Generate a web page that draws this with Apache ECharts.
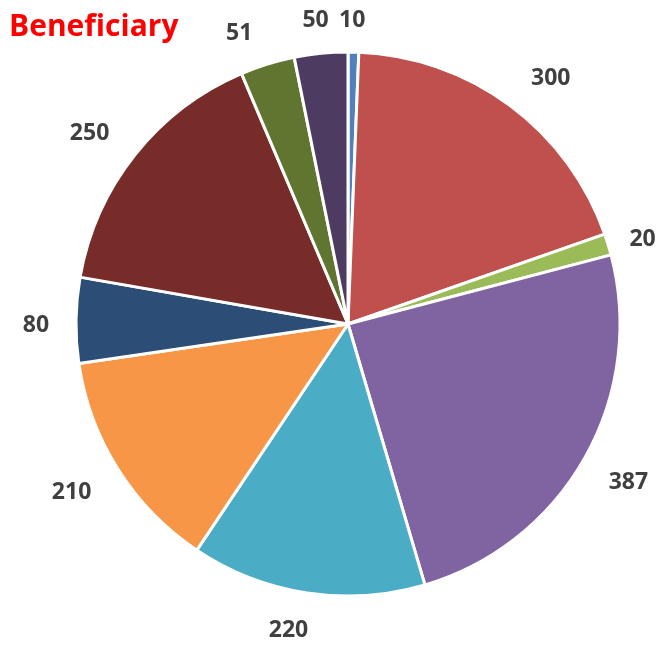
<!DOCTYPE html>
<html>
<head>
<meta charset="utf-8">
<script src="https://cdn.jsdelivr.net/npm/echarts@6/dist/echarts.min.js"></script>
<style>
    html, body { margin: 0; padding: 0; background: #fff; }
    #chart { width: 659px; height: 645px; }
</style>
</head>
<body>
<div id="chart"></div>
<script>
var values = [10, 300, 20, 387, 220, 210, 80, 250, 51, 50];
var colors = ['#4F81BD', '#C0504D', '#9BBB59', '#8064A2', '#4BACC6',
              '#F79646', '#2C4D75', '#772C2A', '#5F7530', '#4D3B62'];
// distance of each label from the pie edge
var labelGap = [32, 34, 17, 33, 38, 34, 24, 34, 34, 33];
// small nudges so labels sit like the original
var labelNudge = [[-20, 0], [-4, 0], [0, 0], [-10, 9], [12, 0],
                  [7, 5], [2, 6], [6, 0], [0, 2], [16, 0]];

var dom = document.getElementById('chart');
var myChart = echarts.init(dom);
var option = null;
option = {
    title: {
        text: 'Beneficiary',
        left: 4,
        top: 7,
        textStyle: {
            color: '#FF0000',
            fontFamily: 'Open Sans',
            fontWeight: 'bold',
            fontSize: 30
        }
    },
    color: colors,
    series: [
        {
            type: 'pie',
            center: [348, 324],
            radius: 272,
            startAngle: 90,
            clockwise: true,
            animation: false,
            avoidLabelOverlap: false,
            itemStyle: {
                borderColor: '#fff',
                borderWidth: 3
            },
            label: {
                show: true,
                position: 'outside',
                formatter: '{c}',
                color: '#404040',
                fontFamily: 'Open Sans',
                fontWeight: 'bold',
                fontSize: 23,
                overflow: 'none'
            },
            labelLine: {
                show: false,
                length: 30,
                length2: 0
            },
            labelLayout: function (params) {
                var n = labelNudge[params.dataIndex];
                return { dx: n[0], dy: n[1] };
            },
            data: values.map(function (v, i) {
                return { value: v, labelLine: { length: labelGap[i] } };
            })
        }
    ]
};
myChart.setOption(option, true);
</script>
</body>
</html>
